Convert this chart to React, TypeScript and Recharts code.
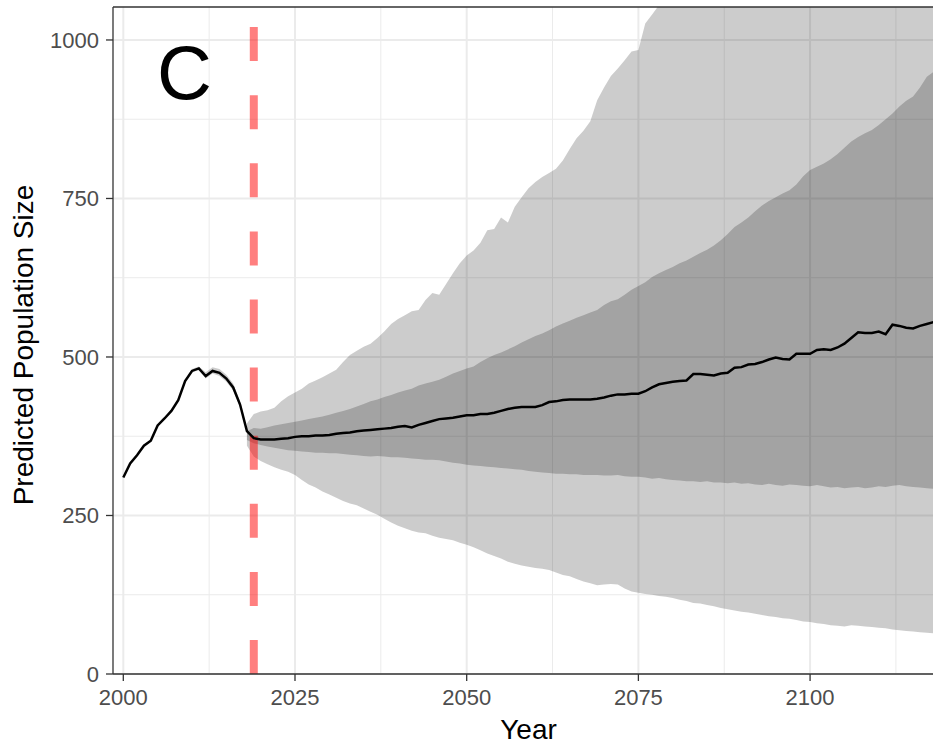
import { Area, CartesianGrid, ComposedChart, Line, ReferenceLine, XAxis, YAxis } from "recharts";

// observed population, 2000-2018
const HISTORY = [310, 332, 345, 360, 368, 392, 403, 415, 432, 462, 478, 482, 470, 478, 475, 466, 452, 425, 383];

// narrow uncertainty around the observed series, 2009-2018
const HIST_BAND_LO = [460, 476, 479, 466, 474, 470, 461, 447, 421, 380];
const HIST_BAND_HI = [463, 481, 485, 476, 484, 481, 472, 458, 430, 388];

// projected median, 2019-2120
const MEDIAN = [
  372, 370, 370, 370, 371, 372, 374, 375, 375, 376,
  376, 377, 379, 380, 381, 383, 384, 385, 386, 387,
  388, 390, 391, 389, 393, 396, 399, 402, 403, 404,
  406, 408, 408, 410, 410, 412, 415, 418, 420, 421,
  421, 421, 424, 429, 430, 432, 433, 433, 433, 433,
  434, 436, 439, 441, 441, 442, 442, 446, 452, 457,
  459, 461, 462, 463, 473, 473, 472, 471, 474, 475,
  483, 484, 488, 489, 492, 496, 499, 497, 496, 505,
  505, 505, 511, 512, 511, 515, 521, 530, 539, 538,
  538, 540, 536, 551, 549, 546, 545, 549, 552, 555,
  556, 557,
];

// projection bands, 2018-2120
const OUTER_HI = [
  395, 410, 414, 416, 420, 430, 438, 444, 450, 458,
  463, 468, 474, 480, 492, 503, 510, 516, 521, 530,
  540, 552, 560, 566, 572, 574, 590, 601, 598, 615,
  632, 648, 660, 668, 680, 700, 702, 720, 712, 737,
  752, 766, 776, 784, 790, 797, 810, 828, 845, 857,
  872, 905, 925, 943, 955, 968, 982, 984, 1026, 1040,
  1055, 1075, 1095, 1115, 1140, 1160, 1185, 1205, 1230, 1255,
  1280, 1305, 1330, 1360, 1385, 1415, 1440, 1470, 1500, 1530,
  1560, 1590, 1620, 1655, 1690, 1720, 1755, 1790, 1825, 1860,
  1900, 1935, 1975, 2010, 2050, 2090, 2130, 2170, 2215, 2255,
  2300, 2340, 2385,
];
const INNER_HI = [
  383, 388, 387, 389, 392, 394, 396, 398, 400, 402,
  404, 406, 409, 412, 415, 418, 422, 426, 430, 433,
  437, 440, 444, 447, 450, 455, 458, 461, 464, 469,
  474, 478, 482, 485, 492, 498, 503, 507, 512, 517,
  523, 528, 533, 537, 542, 548, 553, 557, 562, 566,
  570, 574, 582, 588, 591, 598, 606, 612, 618, 626,
  632, 637, 642, 648, 652, 658, 664, 669, 676, 684,
  694, 705, 712, 720, 730, 739, 746, 752, 758, 763,
  772, 785, 795, 800, 805, 812, 820, 830, 840, 847,
  853, 858, 866, 875, 884, 895, 904, 911, 925, 942,
  950, 956, 962,
];
const INNER_LO = [
  369, 364, 361, 359, 357, 355, 353, 352, 351, 350,
  349, 349, 348, 348, 347, 346, 345, 344, 343, 344,
  343, 342, 342, 341, 340, 339, 338, 338, 337, 335,
  333, 332, 330, 329, 328, 327, 326, 325, 324, 323,
  322, 320, 319, 318, 317, 316, 316, 315, 315, 314,
  314, 314, 313, 313, 314, 312, 311, 311, 310, 308,
  309, 307, 306, 305, 304, 304, 303, 304, 302, 302,
  301, 302, 300, 301, 299, 298, 300, 298, 297, 299,
  298, 297, 296, 298, 296, 294, 295, 293, 294, 295,
  293, 294, 296, 295, 297, 298, 296, 295, 294, 293,
  292, 292, 291,
];
const OUTER_LO = [
  360, 343, 336, 331, 326, 322, 319, 314, 306, 299,
  294, 288, 283, 278, 273, 269, 266, 261, 256, 251,
  245, 239, 234, 230, 226, 223, 222, 218, 215, 213,
  211, 207, 204, 200, 195, 190, 186, 182, 177, 174,
  171, 169, 167, 166, 164, 160, 156, 154, 150, 146,
  143, 140, 141, 142, 141, 135, 130, 128, 126, 125,
  123, 122, 120, 117, 115, 112, 111, 109, 107, 104,
  102, 100, 98, 97, 95, 93, 91, 90, 88, 87,
  85, 83, 82, 80, 79, 77, 76, 75, 77, 76,
  75, 74, 73, 72, 70, 69, 68, 67, 66, 65,
  64, 63, 62,
];

const FIRST_YEAR = 2000;
const BAND_START = 2018;
const HIST_BAND_START = 2009;
const MANAGEMENT_YEAR = 2019;

const X_TICKS = [2000, 2025, 2050, 2075, 2100];
const X_MINOR = [2012.5, 2037.5, 2062.5, 2087.5, 2112.5];
const Y_TICKS = [0, 250, 500, 750, 1000];
const Y_MINOR = [125, 375, 625, 875];

const FONT = "'Liberation Sans', Arial, sans-serif";

const data = Array.from({ length: HISTORY.length + MEDIAN.length }, (_, i) => {
  const year = FIRST_YEAR + i;
  const b = year - BAND_START;
  const h = year - HIST_BAND_START;
  return {
    year,
    pop: i < HISTORY.length ? HISTORY[i] : MEDIAN[i - HISTORY.length],
    outer: b >= 0 ? [OUTER_LO[b], OUTER_HI[b]] : undefined,
    inner: b >= 0 ? [INNER_LO[b], INNER_HI[b]] : undefined,
    histBand: h >= 0 && h < HIST_BAND_LO.length ? [HIST_BAND_LO[h], HIST_BAND_HI[h]] : undefined,
  };
});

const tickStyle = { fill: "#4d4d4d", fontSize: 22, fontFamily: FONT };

export default function App() {
  return (
    <div style={{ position: "absolute", left: 0, top: 0, width: 933, height: 744, overflow: "hidden", background: "#fff" }}>
      <ComposedChart width={960} height={744} data={data} margin={{ top: 7, right: 16, bottom: 0, left: 0 }}>
        <CartesianGrid stroke="#ebebeb" strokeWidth={1} horizontalValues={Y_MINOR} verticalValues={X_MINOR} />
        <CartesianGrid stroke="#ebebeb" strokeWidth={2} horizontalValues={Y_TICKS} verticalValues={X_TICKS} />
        <XAxis
          dataKey="year"
          type="number"
          domain={[1998.5, 2119.5]}
          allowDataOverflow
          ticks={X_TICKS}
          height={70}
          tickSize={7}
          tickMargin={8}
          tick={tickStyle}
          axisLine={{ stroke: "#333", strokeWidth: 1.3 }}
          tickLine={{ stroke: "#333", strokeWidth: 1.3 }}
        />
        <YAxis
          type="number"
          domain={[0, 1052]}
          allowDataOverflow
          ticks={Y_TICKS}
          width={113}
          tickSize={7}
          tickMargin={7}
          tick={tickStyle}
          axisLine={{ stroke: "#333", strokeWidth: 1.3 }}
          tickLine={{ stroke: "#333", strokeWidth: 1.3 }}
        />
        <Area dataKey="outer" type="linear" stroke="none" fill="#000" fillOpacity={0.2} isAnimationActive={false} />
        <Area dataKey="inner" type="linear" stroke="none" fill="#000" fillOpacity={0.2} isAnimationActive={false} />
        <Area dataKey="histBand" type="linear" stroke="none" fill="#000" fillOpacity={0.2} isAnimationActive={false} />
        <ReferenceLine
          x={MANAGEMENT_YEAR}
          stroke="#ff0000"
          strokeOpacity={0.5}
          strokeWidth={8}
          strokeDasharray="34 34.1"
        />
        <Line dataKey="pop" type="linear" stroke="#000" strokeWidth={2.5} dot={false} activeDot={false} isAnimationActive={false} />
        <ReferenceLine y={1052} stroke="#333" strokeWidth={1.3} />
      </ComposedChart>
      <svg width={933} height={744} style={{ position: "absolute", left: 0, top: 0, pointerEvents: "none" }}>
        <text x={157} y={99} fontSize={76} fontFamily={FONT} fill="#000">C</text>
        <text x={528.5} y={739} fontSize={28} fontFamily={FONT} fill="#000" textAnchor="middle">Year</text>
        <text
          x={33}
          y={345}
          fontSize={28}
          fontFamily={FONT}
          fill="#000"
          textAnchor="middle"
          transform="rotate(-90, 33, 345)"
        >
          Predicted Population Size
        </text>
      </svg>
    </div>
  );
}
